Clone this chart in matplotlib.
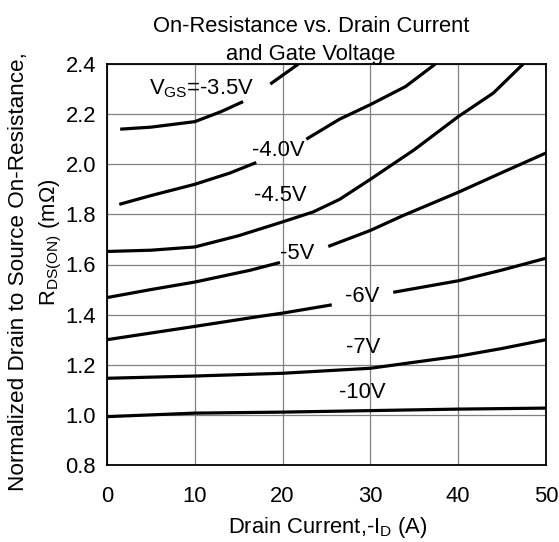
import matplotlib.pyplot as plt
import numpy as np

plt.rcParams['font.family'] = ['Liberation Sans', 'DejaVu Sans']
plt.rcParams['mathtext.fontset'] = 'custom'
plt.rcParams['mathtext.rm'] = 'Liberation Sans'
plt.rcParams['mathtext.it'] = 'Liberation Sans'

nan = np.nan

# Drain current (A) and normalized R_DS(on) for each gate voltage (nan = gap for label)
x_35 = [1.5, 5, 10, 13, 15.5, nan, 18.6, 21.8]
y_35 = [2.14, 2.148, 2.17, 2.21, 2.25, nan, 2.32, 2.40]

x_40 = [1.4, 5, 10, 14, 17, nan, 22.7, 26.5, 30, 34, 37.4]
y_40 = [1.84, 1.875, 1.92, 1.965, 2.007, nan, 2.10, 2.18, 2.238, 2.31, 2.40]

x_45 = [0, 5, 10, 15, 20, 23.5, 26.5, 30, 35, 40, 44, 47.4]
y_45 = [1.652, 1.657, 1.67, 1.715, 1.77, 1.81, 1.86, 1.94, 2.058, 2.19, 2.284, 2.40]

x_50 = [0, 5, 10, 16.3, 19.7, nan, 25.2, 30, 33.7, 40, 45, 50]
y_50 = [1.468, 1.50, 1.53, 1.577, 1.608, nan, 1.672, 1.736, 1.795, 1.888, 1.967, 2.045]

x_60 = [0, 10, 17.4, 20, 25.6, nan, 32.6, 40, 45, 50]
y_60 = [1.30, 1.353, 1.393, 1.406, 1.439, nan, 1.489, 1.535, 1.578, 1.625]

x_70 = [0, 10, 20, 30, 35, 40, 45, 50]
y_70 = [1.146, 1.155, 1.166, 1.186, 1.21, 1.234, 1.265, 1.30]

x_100 = [0, 10, 20, 30, 40, 50]
y_100 = [0.993, 1.007, 1.011, 1.017, 1.023, 1.027]

curves = [(x_35, y_35), (x_40, y_40), (x_45, y_45), (x_50, y_50),
          (x_60, y_60), (x_70, y_70), (x_100, y_100)]

# curve labels: text, x, y
labels = [
    (r'V$_\mathregular{GS}$=-3.5V', 10.8, 2.30),
    ('-4.0V', 19.5, 2.053),
    ('-4.5V', 19.7, 1.874),
    ('-5V', 21.6, 1.644),
    ('-6V', 29.1, 1.472),
    ('-7V', 29.2, 1.267),
    ('-10V', 29.1, 1.089),
]

W, H = 559, 542
FS = 15.8
fig = plt.figure(figsize=(W / 100, H / 100), dpi=100)
ax = fig.add_axes([107 / W, 1 - 465 / H, (546 - 107) / W, (465 - 64) / H])

for xs, ys in curves:
    ax.plot(xs, ys, color='black', linewidth=2.3, solid_capstyle='butt')

for txt, lx, ly in labels:
    ax.text(lx, ly, txt, fontsize=FS, ha='center', va='center')

ax.set_xlim(0, 50)
ax.set_ylim(0.8, 2.4)
ax.set_xticks([0, 10, 20, 30, 40, 50])
ax.set_yticks([0.8, 1.0, 1.2, 1.4, 1.6, 1.8, 2.0, 2.2, 2.4])
ax.set_yticklabels(['0.8', '1.0', '1.2', '1.4', '1.6', '1.8', '2.0', '2.2', '2.4'])
ax.grid(True, color='#808080', linewidth=0.9)
ax.set_axisbelow(True)
ax.tick_params(axis='both', length=0, labelsize=FS)
ax.tick_params(axis='x', pad=15)
ax.tick_params(axis='y', pad=8)
for s in ax.spines.values():
    s.set_linewidth(1.3)
    s.set_color('black')

# titles and axis labels
fig.text(311 / W, 1 - 32 / H, 'On-Resistance vs. Drain Current', fontsize=FS,
         ha='center', va='baseline')
fig.text(311 / W, 1 - 60 / H, 'and Gate Voltage', fontsize=FS,
         ha='center', va='baseline')
fig.text(328 / W, 1 - 533 / H, r'Drain Current,-I$_\mathregular{D}$ (A)', fontsize=FS,
         ha='center', va='baseline')
fig.text(19 / W, 1 - 272 / H, 'Normalized Drain to Source On-Resistance,', fontsize=16.2,
         ha='center', va='center', rotation=90)
fig.text(51 / W, 1 - 242 / H, r'R$_\mathregular{DS(ON)}$ (m$\mathregular{\Omega}$)', fontsize=FS,
         ha='center', va='center', rotation=90)

fig.savefig('out.png', dpi=100)
